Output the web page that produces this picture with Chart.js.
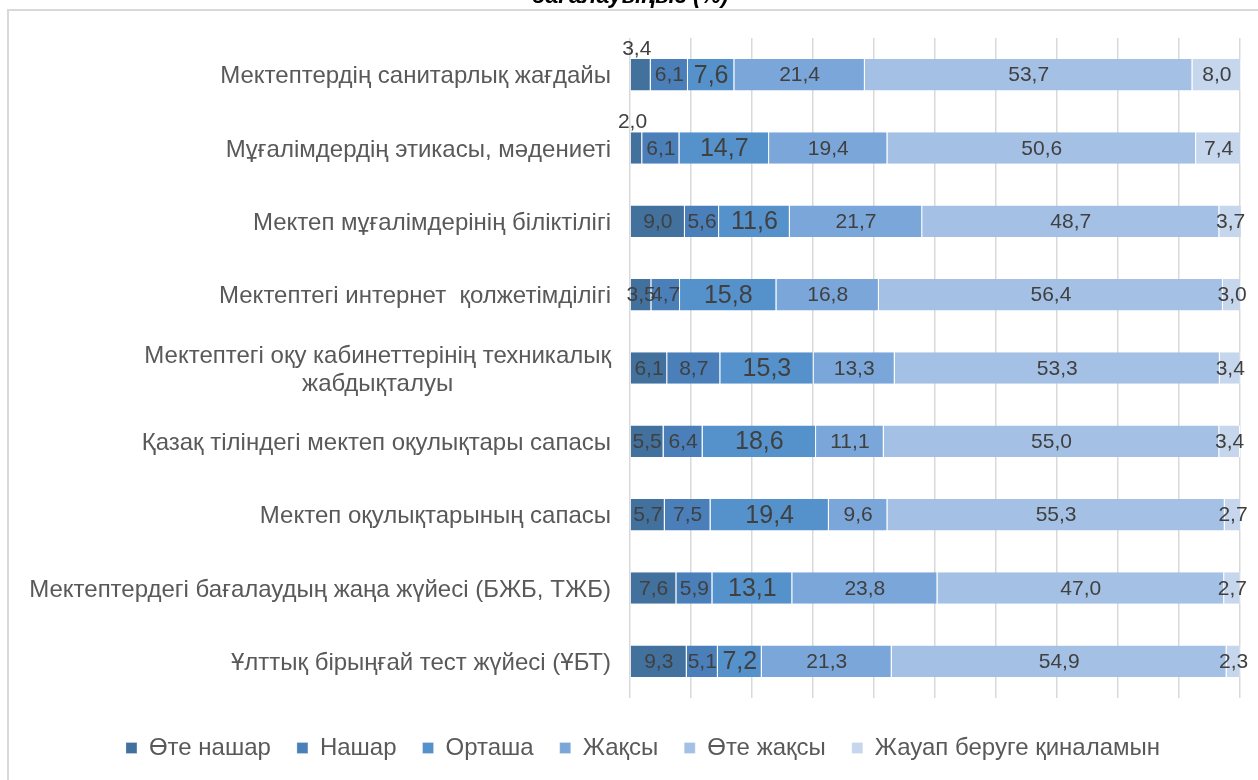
<!DOCTYPE html>
<html>
<head>
<meta charset="utf-8">
<script src="https://cdn.jsdelivr.net/npm/chart.js@4.4.1/dist/chart.umd.min.js"></script>
<style>
  html, body { margin: 0; padding: 0; background: #fff; overflow: hidden; }
  #frame { position: absolute; left: 7px; top: 9px; width: 1300px; height: 800px; border: 2px solid #d9d9d9; }
  #wrap { position: absolute; left: 0; top: 0; width: 1286px; height: 771px; }
</style>
</head>
<body>
<div id="frame"></div>
<div id="wrap"><canvas id="chart" width="1286" height="771"></canvas></div>
<script>
// categories, top to bottom
const categories = [
  'Мектептердің санитарлық жағдайы',
  'Мұғалімдердің этикасы, мәдениеті',
  'Мектеп мұғалімдерінің біліктілігі',
  'Мектептегі интернет  қолжетімділігі',
  ['Мектептегі оқу кабинеттерінің техникалық', 'жабдықталуы'],
  'Қазақ тіліндегі мектеп оқулықтары сапасы',
  'Мектеп оқулықтарының сапасы',
  'Мектептердегі бағалаудың жаңа жүйесі (БЖБ, ТЖБ)',
  'Ұлттық бірыңғай тест жүйесі (ҰБТ)'
];

const seriesNames = ['Өте нашар', 'Нашар', 'Орташа', 'Жақсы', 'Өте жақсы', 'Жауап беруге қиналамын'];

const veryBad   = [3.4, 2.0, 9.0, 3.5, 6.1, 5.5, 5.7, 7.6, 9.3];
const bad       = [6.1, 6.1, 5.6, 4.7, 8.7, 6.4, 7.5, 5.9, 5.1];
const average   = [7.6, 14.7, 11.6, 15.8, 15.3, 18.6, 19.4, 13.1, 7.2];
const good      = [21.4, 19.4, 21.7, 16.8, 13.3, 11.1, 9.6, 23.8, 21.3];
const veryGood  = [53.7, 50.6, 48.7, 56.4, 53.3, 55.0, 55.3, 47.0, 54.9];
const noAnswer  = [8.0, 7.4, 3.7, 3.0, 3.4, 3.4, 2.7, 2.7, 2.3];

const colors = ['#42719e', '#4a7fb9', '#5592cb', '#7aa6d9', '#a4c1e5', '#c6d6ed'];
const FONT = '"Liberation Sans", Arial, sans-serif';

const series = [veryBad, bad, average, good, veryGood, noAnswer];

// title (only its last line shows above the frame)
const titlePlugin = {
  id: 'cutTitle',
  beforeDraw(chart) {
    const ctx = chart.ctx;
    ctx.save();
    ctx.font = 'italic bold 23px ' + FONT;
    ctx.fillStyle = '#000';
    ctx.textAlign = 'center';
    ctx.textBaseline = 'alphabetic';
    ctx.fillText('бағалауыңыз (%)', 630, 3);
    ctx.restore();
  }
};

// category labels, block right-aligned, lines centred
const yLabelPlugin = {
  id: 'yLabels',
  afterDraw(chart) {
    const ctx = chart.ctx;
    const scale = chart.scales.y;
    const right = chart.chartArea.left - 19;
    ctx.save();
    ctx.font = '24px ' + FONT;
    ctx.fillStyle = '#595959';
    ctx.textBaseline = 'middle';
    ctx.textAlign = 'center';
    categories.forEach((lab, i) => {
      const lines = Array.isArray(lab) ? lab : [lab];
      const w = Math.max(...lines.map(l => ctx.measureText(l).width));
      const y0 = scale.getPixelForTick(i) - (lines.length - 1) * 28 / 2;
      lines.forEach((l, k) => ctx.fillText(l, right - w / 2, y0 + k * 28 + 2));
    });
    ctx.restore();
  }
};

// value labels on the segments
const valuePlugin = {
  id: 'valueLabels',
  afterDatasetsDraw(chart) {
    const ctx = chart.ctx;
    ctx.save();
    ctx.textAlign = 'center';
    ctx.textBaseline = 'middle';
    ctx.fillStyle = '#404040';
    chart.data.datasets.forEach((ds, i) => {
      const meta = chart.getDatasetMeta(i);
      meta.data.forEach((bar, j) => {
        const v = ds.data[j];
        const p = bar.getProps(['x', 'base', 'y', 'height'], true);
        let x = (p.x + p.base) / 2;
        let y = p.y + 1;
        // tiny first segments get their label above the bar
        if (i === 0 && v < 3.5) { y = p.y - p.height / 2 - 10; x -= 4; }
        ctx.font = (i === 2 ? '25px ' : '21px ') + FONT;
        ctx.fillText(v.toFixed(1).replace('.', ','), x, y);
      });
    });
    ctx.restore();
  }
};

new Chart(document.getElementById('chart'), {
  type: 'bar',
  data: {
    labels: categories,
    datasets: series.map((d, i) => ({
      label: seriesNames[i],
      data: d,
      backgroundColor: colors[i],
      borderColor: '#ffffff',
      borderWidth: { left: 0, right: 1, top: 0, bottom: 0 },
      borderSkipped: false,
      categoryPercentage: 0.43,
      barPercentage: 1,
      clip: false
    }))
  },
  options: {
    indexAxis: 'y',
    responsive: false,
    animation: false,
    layout: { padding: { top: 38, right: 46, bottom: 1, left: 46 } },
    scales: {
      x: {
        stacked: true,
        min: 0,
        max: 100,
        ticks: { display: false, stepSize: 10 },
        grid: { color: '#d9d9d9', lineWidth: 1.5, drawTicks: false },
        border: { display: false },
        afterFit: s => { s.height = 12; }
      },
      y: {
        stacked: true,
        ticks: { display: false },
        grid: { display: false },
        border: { display: false },
        afterFit: s => { s.width = 584; }
      }
    },
    plugins: {
      legend: {
        position: 'bottom',
        labels: {
          boxWidth: 11,
          boxHeight: 11,
          padding: 26,
          color: '#595959',
          font: { size: 24, family: FONT }
        }
      },
      tooltip: { enabled: false }
    }
  },
  plugins: [titlePlugin, yLabelPlugin, valuePlugin]
});
</script>
</body>
</html>
